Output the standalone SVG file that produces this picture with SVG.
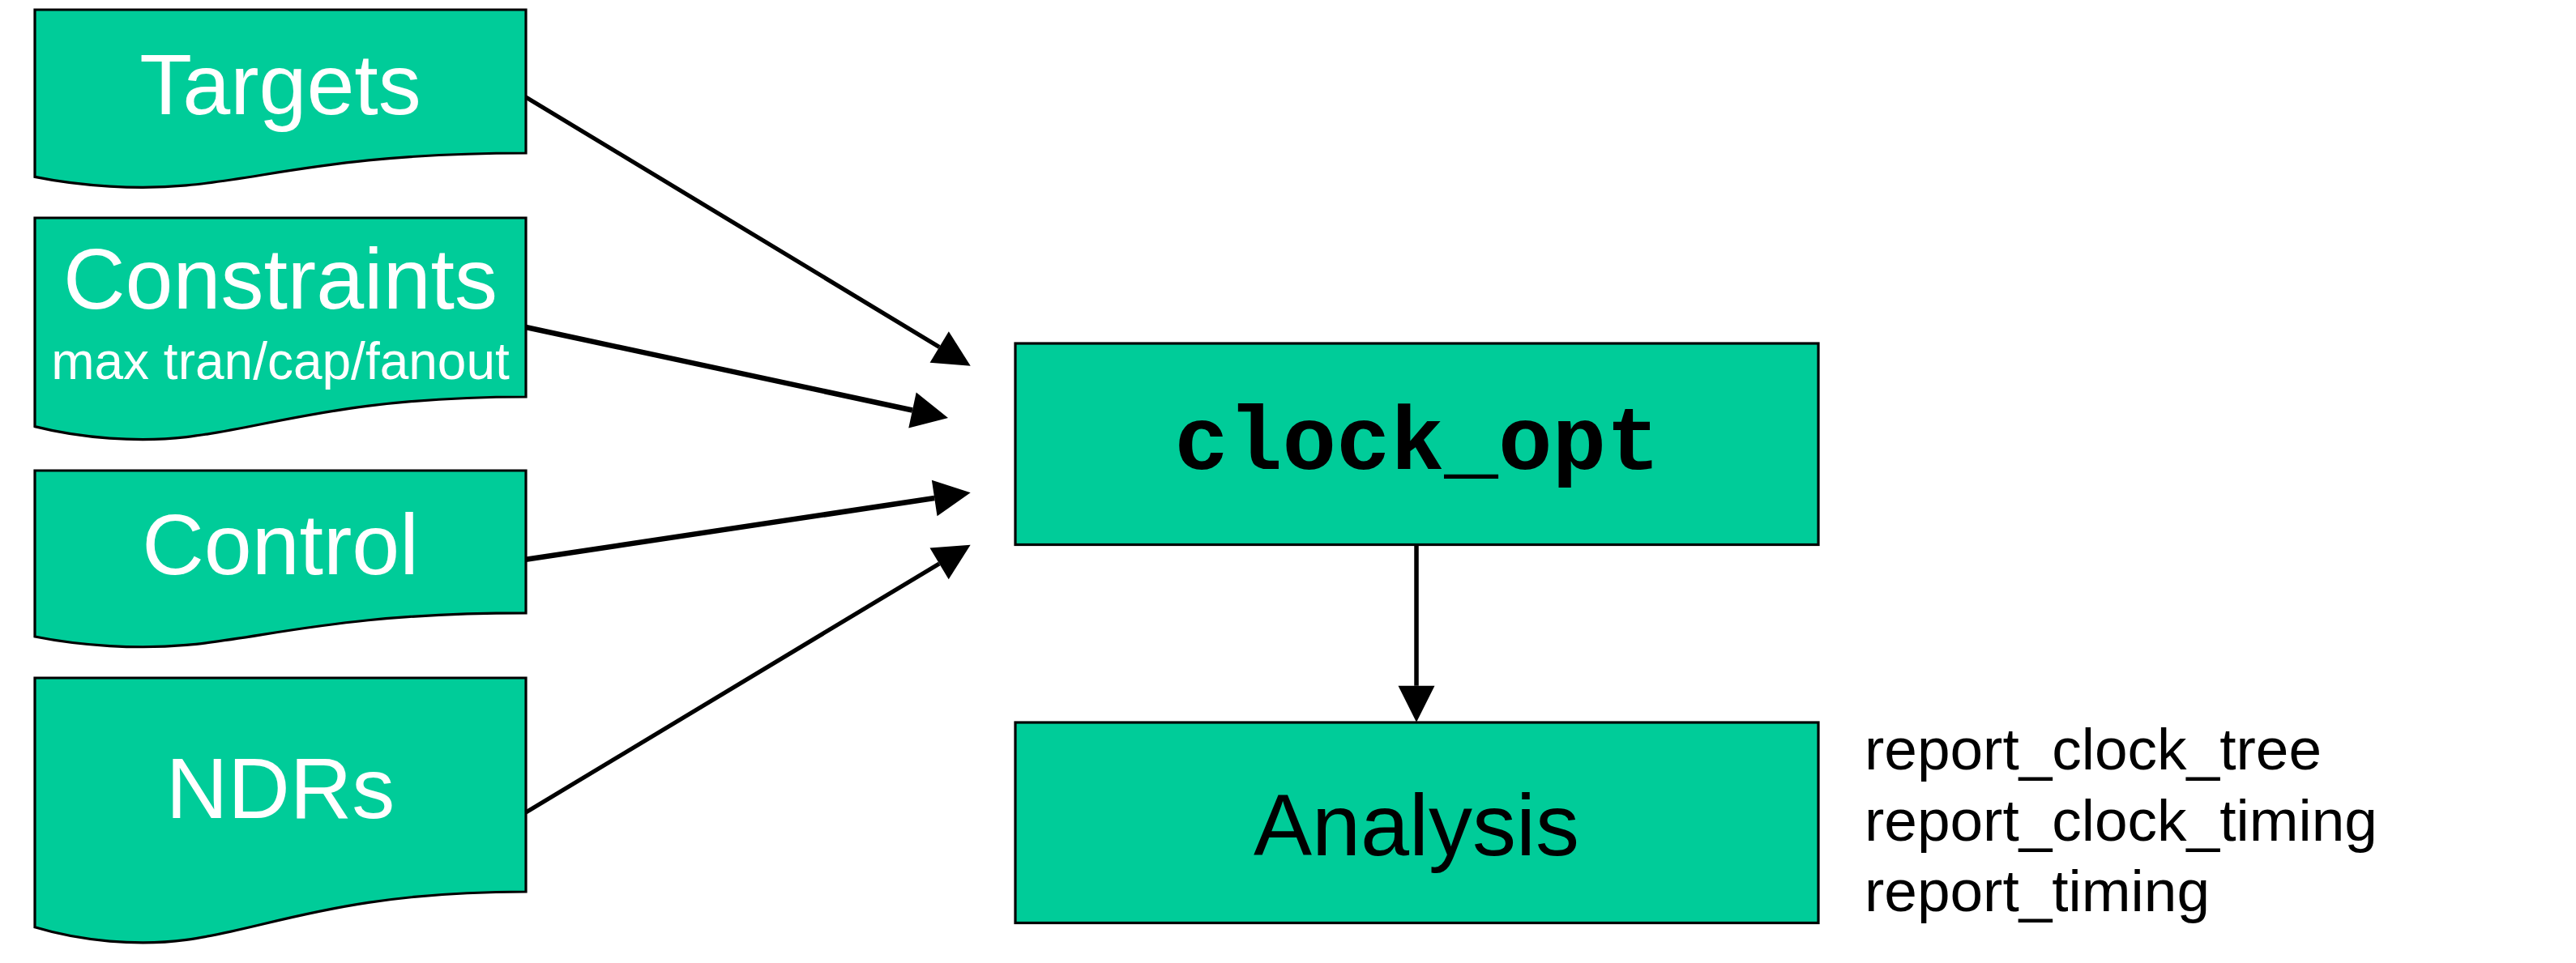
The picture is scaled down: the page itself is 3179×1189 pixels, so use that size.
<svg xmlns="http://www.w3.org/2000/svg" width="3179" height="1189" viewBox="0 0 3179 1189">
<style>
.box{fill:#00CC99;stroke:#000;stroke-width:3.2;stroke-linejoin:miter}
.wt{fill:#fff;font-family:"Liberation Sans",Arial,sans-serif;text-anchor:middle}
.bt{fill:#000;font-family:"Liberation Sans",Arial,sans-serif}
.mono{fill:#000;font-family:"Liberation Mono","Courier New",monospace;font-weight:bold;text-anchor:middle}
.conn{stroke:#000;fill:none;marker-end:url(#ah)}
</style>
<defs>
<marker id="ah" markerUnits="userSpaceOnUse" markerWidth="46" markerHeight="46" viewBox="0 -23 45 46" refX="0" refY="0" orient="auto">
<path d="M0,-22.5 L45,0 L0,22.5 Z" fill="#000"/>
</marker>
</defs>
<rect width="3179" height="1189" fill="#fff"/>
<g id="targets">
<path class="box" d="M43,12 H649 V189 C420,189 330,220 230,228.9 C170,234.4 100,230 43,218.4 Z"/>
<text class="wt" x="346" y="141" font-size="106">Targets</text>
</g>
<g id="constraints">
<path class="box" d="M43,269 H649 V490 C420,490 330,528.5 230,539.6 C170,546.4 100,541 43,526.6 Z"/>
<text class="wt" x="346" y="381" font-size="106">Constraints</text>
<text class="wt" x="346" y="468" font-size="64">max tran/cap/fanout</text>
</g>
<g id="control">
<path class="box" d="M43,581 H649 V756.9 C420,756.9 330,787.5 230,796.4 C170,801.8 100,797.5 43,786 Z"/>
<text class="wt" x="346" y="709" font-size="106">Control</text>
</g>
<g id="ndrs">
<path class="box" d="M43,837 H649 V1101 C420,1101 330,1147 230,1160.4 C170,1168.5 100,1162 43,1144.8 Z"/>
<text class="wt" x="346" y="1010" font-size="106">NDRs</text>
</g>
<g id="clock_opt">
<rect class="box" x="1253" y="424" width="991" height="248.5"/>
<text class="mono" x="1749" y="579" font-size="111">clock_opt</text>
</g>
<g id="analysis">
<rect class="box" x="1253" y="892" width="991" height="247.5"/>
<text class="bt" x="1748" y="1056" font-size="108" text-anchor="middle">Analysis</text>
</g>
<g id="analysis_notes">
<text class="bt" x="2301" y="950" font-size="73">report_clock_tree</text>
<text class="bt" x="2301" y="1038" font-size="73">report_clock_timing</text>
<text class="bt" x="2301" y="1125" font-size="73">report_timing</text>
</g>
<g id="connectors">
<line class="conn" x1="649" y1="120" x2="1159.2" y2="428.4" stroke-width="5.2"/>
<line class="conn" x1="649" y1="404" x2="1126" y2="506.5" stroke-width="6.5"/>
<line class="conn" x1="649" y1="690.7" x2="1153.2" y2="615" stroke-width="6.5"/>
<line class="conn" x1="649" y1="1003" x2="1159.1" y2="695.9" stroke-width="5.2"/>
<line class="conn" x1="1748" y1="672" x2="1748" y2="846.7" stroke-width="5.5"/>
</g>
</svg>
